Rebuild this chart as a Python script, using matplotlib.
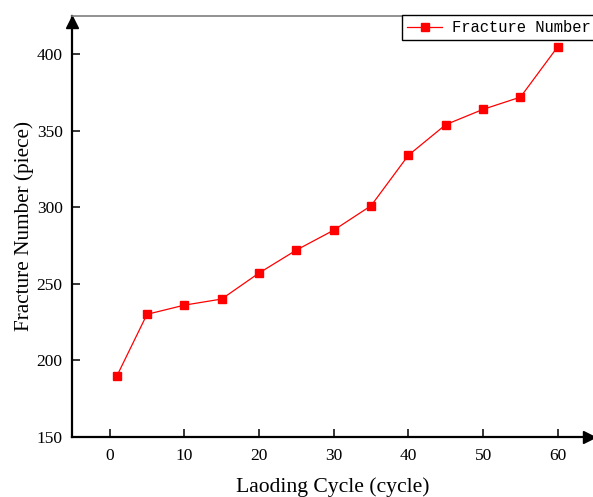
import matplotlib.pyplot as plt

# loading cycles and counted fractures
cycles = [1, 5, 10, 15, 20, 25, 30, 35, 40, 45, 50, 55, 60]
fractures = [190, 230, 236, 240, 257, 272, 285, 301, 334, 354, 364, 372, 405]
xticks = [0, 10, 20, 30, 40, 50, 60]
yticks = [150, 200, 250, 300, 350, 400]

plt.rcParams["font.family"] = ["Liberation Serif", "DejaVu Serif"]

fig = plt.figure(figsize=(5.93, 4.97), dpi=100)
ax = fig.add_axes([0.1219, 0.1213, 0.878, 0.8465])

ax.plot(cycles, fractures, color="red", lw=0.9, marker="s", ms=6.2,
        mec="red", mfc="red", label="Fracture Number")

ax.set_xlim(-5, 64.7)
ax.set_ylim(150, 425)
ax.set_xticks(xticks)
ax.set_yticks(yticks)
ax.tick_params(direction="in", length=6, width=1.1, labelsize=12.5)
ax.tick_params(axis="x", pad=8)
ax.tick_params(axis="y", pad=7)

for side in ("left", "bottom"):
    ax.spines[side].set_linewidth(1.6)
    ax.spines[side].set_color("black")
ax.spines["top"].set_color("#7f7f7f")
ax.spines["top"].set_linewidth(1.2)
ax.spines["right"].set_visible(False)

# arrowheads on the axes
ax.plot([0], [1 - 5.5 / 420.7], marker="^", ms=8.8, color="black",
        transform=ax.transAxes, clip_on=False)
ax.plot([1 - 4.0 / 520.7], [0], marker=">", ms=8.8, color="black",
        transform=ax.transAxes, clip_on=False)

ax.set_xlabel("Laoding Cycle (cycle)", fontsize=15.6, labelpad=10)
ax.set_ylabel("Fracture Number (piece)", fontsize=15.3, labelpad=2)

leg = fig.legend(loc="upper left", bbox_to_anchor=(402 / 593, 1 - 15.3 / 497),
                 borderaxespad=0, fancybox=False, framealpha=1,
                 edgecolor="black", handlelength=2.3, handletextpad=0.6,
                 borderpad=0.3,
                 prop={"family": "Liberation Mono", "size": 11.2})
leg.get_frame().set_linewidth(1.0)

fig.savefig("out.png", dpi=100)
